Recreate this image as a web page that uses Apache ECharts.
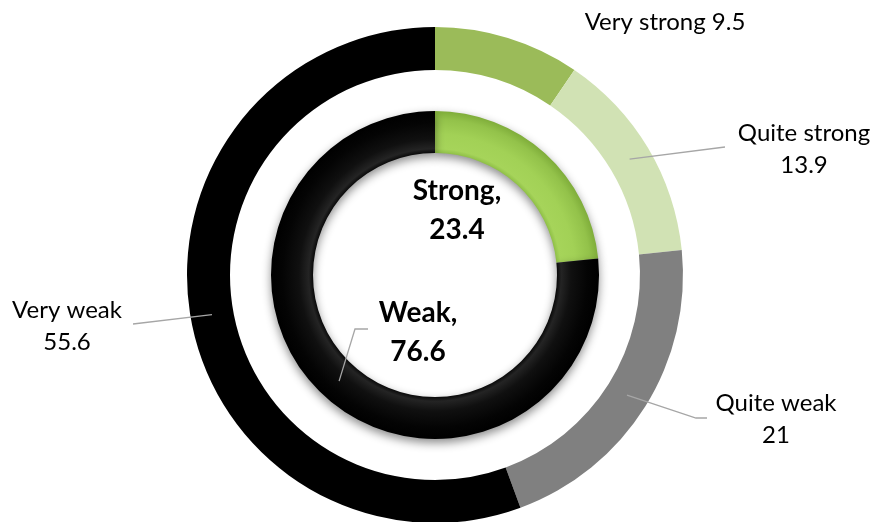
<!DOCTYPE html>
<html><head><meta charset="utf-8">
<script src="https://cdn.jsdelivr.net/npm/echarts@6/dist/echarts.min.js"></script>
<style>html,body{margin:0;padding:0;background:#fff}#c{width:877px;height:522px}</style>
</head><body><div id="c"></div>
<script>
// ---- data ----
const outerNames = ['Very strong', 'Quite strong', 'Quite weak', 'Very weak'];
const outerValues = [9.5, 13.9, 21, 55.6];
const innerNames = ['Strong', 'Weak'];
const innerValues = [23.4, 76.6];

// ---- styling ----
const CX = 435, CY = 275;
const OUTER_R = [205, 248], INNER_R = [122, 164];
const outerColors = ['#9BBB59', '#D1E2B4', '#808080', '#000000'];
const outerLabelPos = {
  'Very strong': {x: 665, y: 22, line: null},
  'Quite strong': {x: 804, y: 149, line: [[725, 147]]},
  'Quite weak': {x: 776, y: 419, line: [[696, 418], [707, 418]]},
  'Very weak': {x: 67, y: 326, line: [[133, 324]]}
};
const innerLabelPos = {
  'Strong': {x: 457, y: 210, line: null},
  'Weak': {x: 418, y: 332, line: [[355, 329], [368, 329]]}
};

function grad(stops) {
  return {type: 'radial', x: CX, y: CY, r: INNER_R[1], global: true,
    colorStops: stops.map(s => ({offset: s[0], color: s[1]}))};
}
const innerColors = [
  grad([[0, '#9BCB4E'], [0.74, '#8CBD44'], [0.77, '#A6D45A'], [0.86, '#A2D156'], [0.95, '#93C24A'], [1, '#7FAD3A']]),
  grad([[0, '#000'], [0.74, '#060606'], [0.77, '#242424'], [0.83, '#101010'], [0.93, '#040404'], [1, '#000']])
];

// leader line starts at the middle of the ring, at the slice's mid-angle
function makeLayout(names, values, posMap, midRadius) {
  const total = values.reduce((a, b) => a + b, 0);
  return function (p) {
    const name = names[p.dataIndex];
    const pos = posMap[name];
    const res = {x: pos.x, y: pos.y, align: 'center', verticalAlign: 'middle'};
    if (pos.line) {
      let cum = 0;
      for (let i = 0; i < p.dataIndex; i++) cum += values[i];
      const a = (cum + values[p.dataIndex] / 2) / total * 2 * Math.PI;
      const s = [CX + Math.sin(a) * midRadius, CY - Math.cos(a) * midRadius];
      const pts = [s].concat(pos.line.map(q => q.slice()));
      if (pts.length < 3) pts.push(pts[pts.length - 1].slice());
      res.labelLinePoints = pts;
    }
    return res;
  };
}

const base = {
  type: 'pie', center: [CX, CY], startAngle: 90, clockwise: true,
  avoidLabelOverlap: false, silent: true, emphasis: {disabled: true}
};
const lineStyle = {color: '#A6A6A6', width: 1.3};

const chart = echarts.init(document.getElementById('c'), null, {renderer: 'canvas'});
chart.setOption({
  animation: false,
  backgroundColor: '#fff',
  series: [
    // visible rings
    Object.assign({}, base, {
      radius: OUTER_R, z: 2, label: {show: false}, labelLine: {show: false},
      data: outerNames.map((n, i) => ({name: n, value: outerValues[i], itemStyle: {color: outerColors[i]}}))
    }),
    Object.assign({}, base, {
      radius: INNER_R, z: 2, label: {show: false}, labelLine: {show: false},
      itemStyle: {shadowBlur: 10, shadowColor: 'rgba(0,0,0,0.45)', shadowOffsetY: 4},
      data: innerNames.map((n, i) => ({name: n, value: innerValues[i], itemStyle: {color: innerColors[i]}}))
    }),
    // transparent overlays carrying the labels and leader lines on top
    Object.assign({}, base, {
      radius: OUTER_R, z: 5, itemStyle: {color: 'rgba(0,0,0,0)'},
      data: outerNames.map((n, i) => ({name: n, value: outerValues[i], labelLine: {show: !!outerLabelPos[n].line}})),
      label: {
        show: true, position: 'outside',
        formatter: p => p.dataIndex === 0 ? p.name + ' ' + p.value : p.name + '\n' + p.value,
        fontFamily: 'Lato', fontSize: 24, color: '#000', lineHeight: 32
      },
      labelLine: {show: true, length: 10, length2: 10, lineStyle: lineStyle},
      labelLayout: makeLayout(outerNames, outerValues, outerLabelPos, (OUTER_R[0] + OUTER_R[1]) / 2)
    }),
    Object.assign({}, base, {
      radius: INNER_R, z: 5, itemStyle: {color: 'rgba(0,0,0,0)'},
      data: innerNames.map((n, i) => ({name: n, value: innerValues[i], labelLine: {show: !!innerLabelPos[n].line}})),
      label: {
        show: true, position: 'outside',
        formatter: p => p.name + ',\n' + p.value,
        fontFamily: 'Lato', fontWeight: 'bold', fontSize: 28, color: '#000', lineHeight: 39
      },
      labelLine: {show: true, length: 10, length2: 10, lineStyle: lineStyle},
      labelLayout: makeLayout(innerNames, innerValues, innerLabelPos, (INNER_R[0] + INNER_R[1]) / 2)
    })
  ]
});
</script>
</body></html>
